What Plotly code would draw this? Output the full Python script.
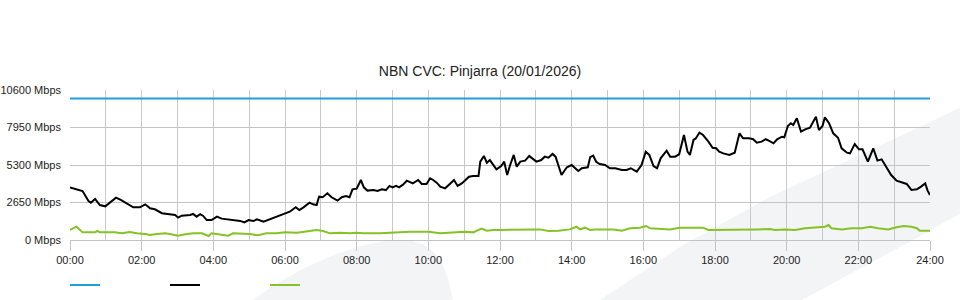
import plotly.graph_objects as go

# ---- data ----
capacity_mbps = 10000
day_minutes = [0, 1440]

black_min = [0, 14, 21, 31, 35, 42, 50, 59, 67, 77, 85, 95, 106, 117, 126, 134, 142, 154, 165, 176,
             181, 187, 201, 206, 212, 218, 223, 229, 237, 246, 254, 265, 276, 285, 292, 299, 307, 313,
             324, 335, 346, 357, 368, 378, 384, 391, 401, 407, 413, 417, 423, 431, 438, 448, 455, 462,
             468, 473, 480, 487, 492, 498, 508, 515, 522, 529, 535, 540, 546, 551, 557, 564, 569, 574,
             583, 589, 597, 603, 608, 614, 620, 628, 636, 643, 649, 656, 661, 668, 675, 684, 687, 693,
             698, 703, 714, 722, 727, 732, 737, 743, 748, 754, 762, 769, 774, 781, 789, 795, 801, 808,
             813, 823, 832, 840, 846, 851, 857, 867, 871, 876, 881, 887, 896, 904, 913, 924, 932, 939,
             949, 957, 964, 970, 977, 983, 989, 999, 1005, 1013, 1020, 1028, 1034, 1038, 1044, 1048,
             1054, 1060, 1069, 1076, 1082, 1087, 1094, 1104, 1113, 1121, 1127, 1137, 1144, 1150, 1158,
             1165, 1170, 1178, 1184, 1192, 1196, 1202, 1207, 1211, 1217, 1224, 1231, 1239, 1249, 1254,
             1260, 1264, 1271, 1278, 1286, 1292, 1301, 1306, 1314, 1321, 1327, 1336, 1345, 1352, 1359,
             1366, 1375, 1384, 1393, 1401, 1409, 1418, 1425, 1432, 1436, 1440]
black_mbps = [3720, 3530, 3460, 2760, 2640, 2900, 2470, 2380, 2640, 2990, 2830, 2590, 2310, 2310, 2520,
              2240, 2170, 1890, 1820, 1770, 1580, 1720, 1770, 1840, 1650, 1820, 1700, 1410, 1410, 1650,
              1510, 1460, 1410, 1350, 1240, 1410, 1340, 1460, 1290, 1460, 1650, 1820, 2000, 2310, 2120,
              2310, 2640, 2520, 2470, 3060, 3020, 3300, 3020, 2780, 3020, 3110, 3020, 3580, 3630, 4240,
              3720, 3490, 3530, 3460, 3580, 3530, 3820, 3720, 3820, 3720, 3890, 4190, 4120, 4000, 4240,
              3960, 3960, 4360, 4240, 4050, 3770, 3650, 3960, 4240, 3820, 4000, 4190, 4470, 4520, 4520,
              5540, 5940, 5460, 5650, 4990, 5230, 5540, 4590, 5300, 6010, 5180, 5540, 5610, 5940, 5770,
              5540, 5650, 5890, 5820, 6080, 5890, 4590, 5140, 5300, 5070, 4880, 5070, 5140, 5860, 5960,
              5530, 5370, 5300, 5070, 5070, 4950, 4950, 5070, 4830, 5300, 6240, 6010, 5230, 5070, 5770,
              6310, 5890, 5890, 6060, 7420, 6240, 6010, 7070, 7190, 7590, 7420, 6950, 6520, 6480, 6240,
              6120, 6010, 6170, 7540, 7190, 7190, 7120, 6880, 6950, 7120, 7020, 6830, 7120, 7300, 7260,
              8060, 8250, 8130, 8600, 7660, 7820, 7940, 8710, 7770, 8060, 8670, 8250, 7540, 7230, 6480,
              6170, 6120, 6780, 6410, 6410, 5540, 6480, 5610, 5700, 5230, 4590, 4190, 4050, 3960, 3530,
              3580, 3770, 4000, 3490, 3180]

green_min = [0, 11, 21, 42, 46, 50, 75, 87, 100, 112, 126, 134, 145, 159, 167, 181, 193, 206, 221, 232,
             237, 254, 265, 273, 285, 301, 315, 329, 346, 360, 380, 396, 413, 424, 435, 452, 469, 480,
             491, 519, 536, 553, 569, 586, 600, 620, 639, 661, 675, 684, 689, 698, 709, 723, 745, 767,
             787, 801, 818, 837, 848, 854, 862, 871, 879, 893, 910, 924, 938, 954, 965, 971, 988, 1005,
             1021, 1038, 1060, 1069, 1094, 1116, 1133, 1150, 1172, 1180, 1197, 1214, 1231, 1247, 1264,
             1270, 1275, 1292, 1309, 1326, 1340, 1353, 1370, 1384, 1396, 1409, 1418, 1423, 1440]
green_mbps = [710, 940, 540, 540, 640, 540, 540, 470, 570, 470, 420, 350, 420, 470, 420, 300, 400, 470,
              470, 280, 470, 350, 300, 470, 470, 420, 330, 470, 470, 540, 520, 590, 710, 640, 470, 520,
              470, 520, 470, 470, 520, 520, 590, 590, 590, 470, 520, 590, 540, 710, 800, 660, 710, 710,
              710, 710, 750, 640, 660, 750, 940, 750, 870, 710, 750, 750, 750, 660, 830, 870, 990, 830,
              780, 750, 870, 870, 870, 710, 710, 750, 710, 750, 780, 710, 750, 710, 830, 900, 940, 1060,
              830, 750, 830, 830, 940, 830, 750, 900, 990, 940, 830, 660, 660]

y_ticks = [0, 2650, 5300, 7950, 10600]
y_tick_labels = ["0 Mbps", "2650 Mbps", "5300 Mbps", "7950 Mbps", "10600 Mbps"]
x_ticks = list(range(0, 1441, 120))
x_tick_labels = ["%02d:00" % (m // 60) for m in x_ticks]
hour_grid = list(range(60, 1441, 60))

title_text = "NBN CVC: Pinjarra (20/01/2026)"

BLUE = "#1ea0dc"
BLACK = "#000000"
GREEN = "#84c225"
FONT = "Liberation Sans, Arial, sans-serif"

fig = go.Figure()
fig.add_trace(go.Scatter(x=day_minutes, y=[capacity_mbps] * len(day_minutes), mode="lines",
                         line=dict(color=BLUE, width=2), name="", hoverinfo="skip"))
fig.add_trace(go.Scatter(x=black_min, y=black_mbps, mode="lines",
                         line=dict(color=BLACK, width=2), name=""))
fig.add_trace(go.Scatter(x=green_min, y=green_mbps, mode="lines",
                         line=dict(color=GREEN, width=2), name=""))

# faint background watermark (decoration, paper coordinates)
L, T, W, H = 70, 90, 860, 150
def px(x, y):
    return "%.4f,%.4f" % ((x - L) / W, (T + H - y) / H)

band = "M " + " L ".join(px(x, y) for x, y in [(600, 300), (683, 245), (770, 197), (945, 115),
                                                   (965, 105), (965, 211), (913, 240), (802, 300)]) + " Z"
hill = ("M " + px(250, 302) + " C " + px(300, 265) + " " + px(360, 240) + " " + px(400, 240) +
        " C " + px(432, 240) + " " + px(446, 258) + " " + px(453, 302) + " Z")
shapes = [
    dict(type="path", xref="paper", yref="paper", path=band, fillcolor="#f3f4f6",
         line=dict(width=0), layer="below"),
    dict(type="path", xref="paper", yref="paper", path=hill, fillcolor="#f3f4f6",
         line=dict(width=0), layer="below"),
]

fig.update_layout(
    width=960, height=300,
    margin=dict(l=L, r=960 - L - W, t=T, b=300 - T - H, autoexpand=False),
    paper_bgcolor="white", plot_bgcolor="rgba(0,0,0,0)",
    font=dict(family=FONT, size=11, color="#222"),
    title=dict(text=title_text, x=0.5, xanchor="center", y=1 - 71 / 300, yanchor="middle",
               yref="container", font=dict(family=FONT, size=14, color="#222")),
    showlegend=True,
    legend=dict(orientation="h", x=-5 / W, xanchor="left", y=1 - 285 / 300, yanchor="middle",
                yref="container", entrywidth=55, entrywidthmode="pixels", itemwidth=30,
                font=dict(size=11), bgcolor="rgba(0,0,0,0)"),
    shapes=shapes,
    hovermode=False,
)
fig.update_xaxes(range=[0, 1440], tickvals=x_ticks, ticktext=x_tick_labels, automargin=False,
                 showgrid=False, zeroline=False, showline=True, linecolor="#c4c4c4", linewidth=1,
                 ticks="outside", ticklen=10, tickcolor="#c4c4c4", tickwidth=1,
                 tickfont=dict(family=FONT, size=11, color="#222"),
                 minor=dict(tickvals=hour_grid, showgrid=True, gridcolor="#c8c8c8", gridwidth=1, ticks=""))
fig.update_yaxes(range=[0, 10600], tickvals=y_ticks, ticktext=y_tick_labels, automargin=False,
                 showgrid=True, gridcolor="#c4c4c4", gridwidth=1, zeroline=False, showline=False,
                 ticks="", ticklabelstandoff=8,
                 tickfont=dict(family=FONT, size=11, color="#222"))

fig.write_html("out.html")
